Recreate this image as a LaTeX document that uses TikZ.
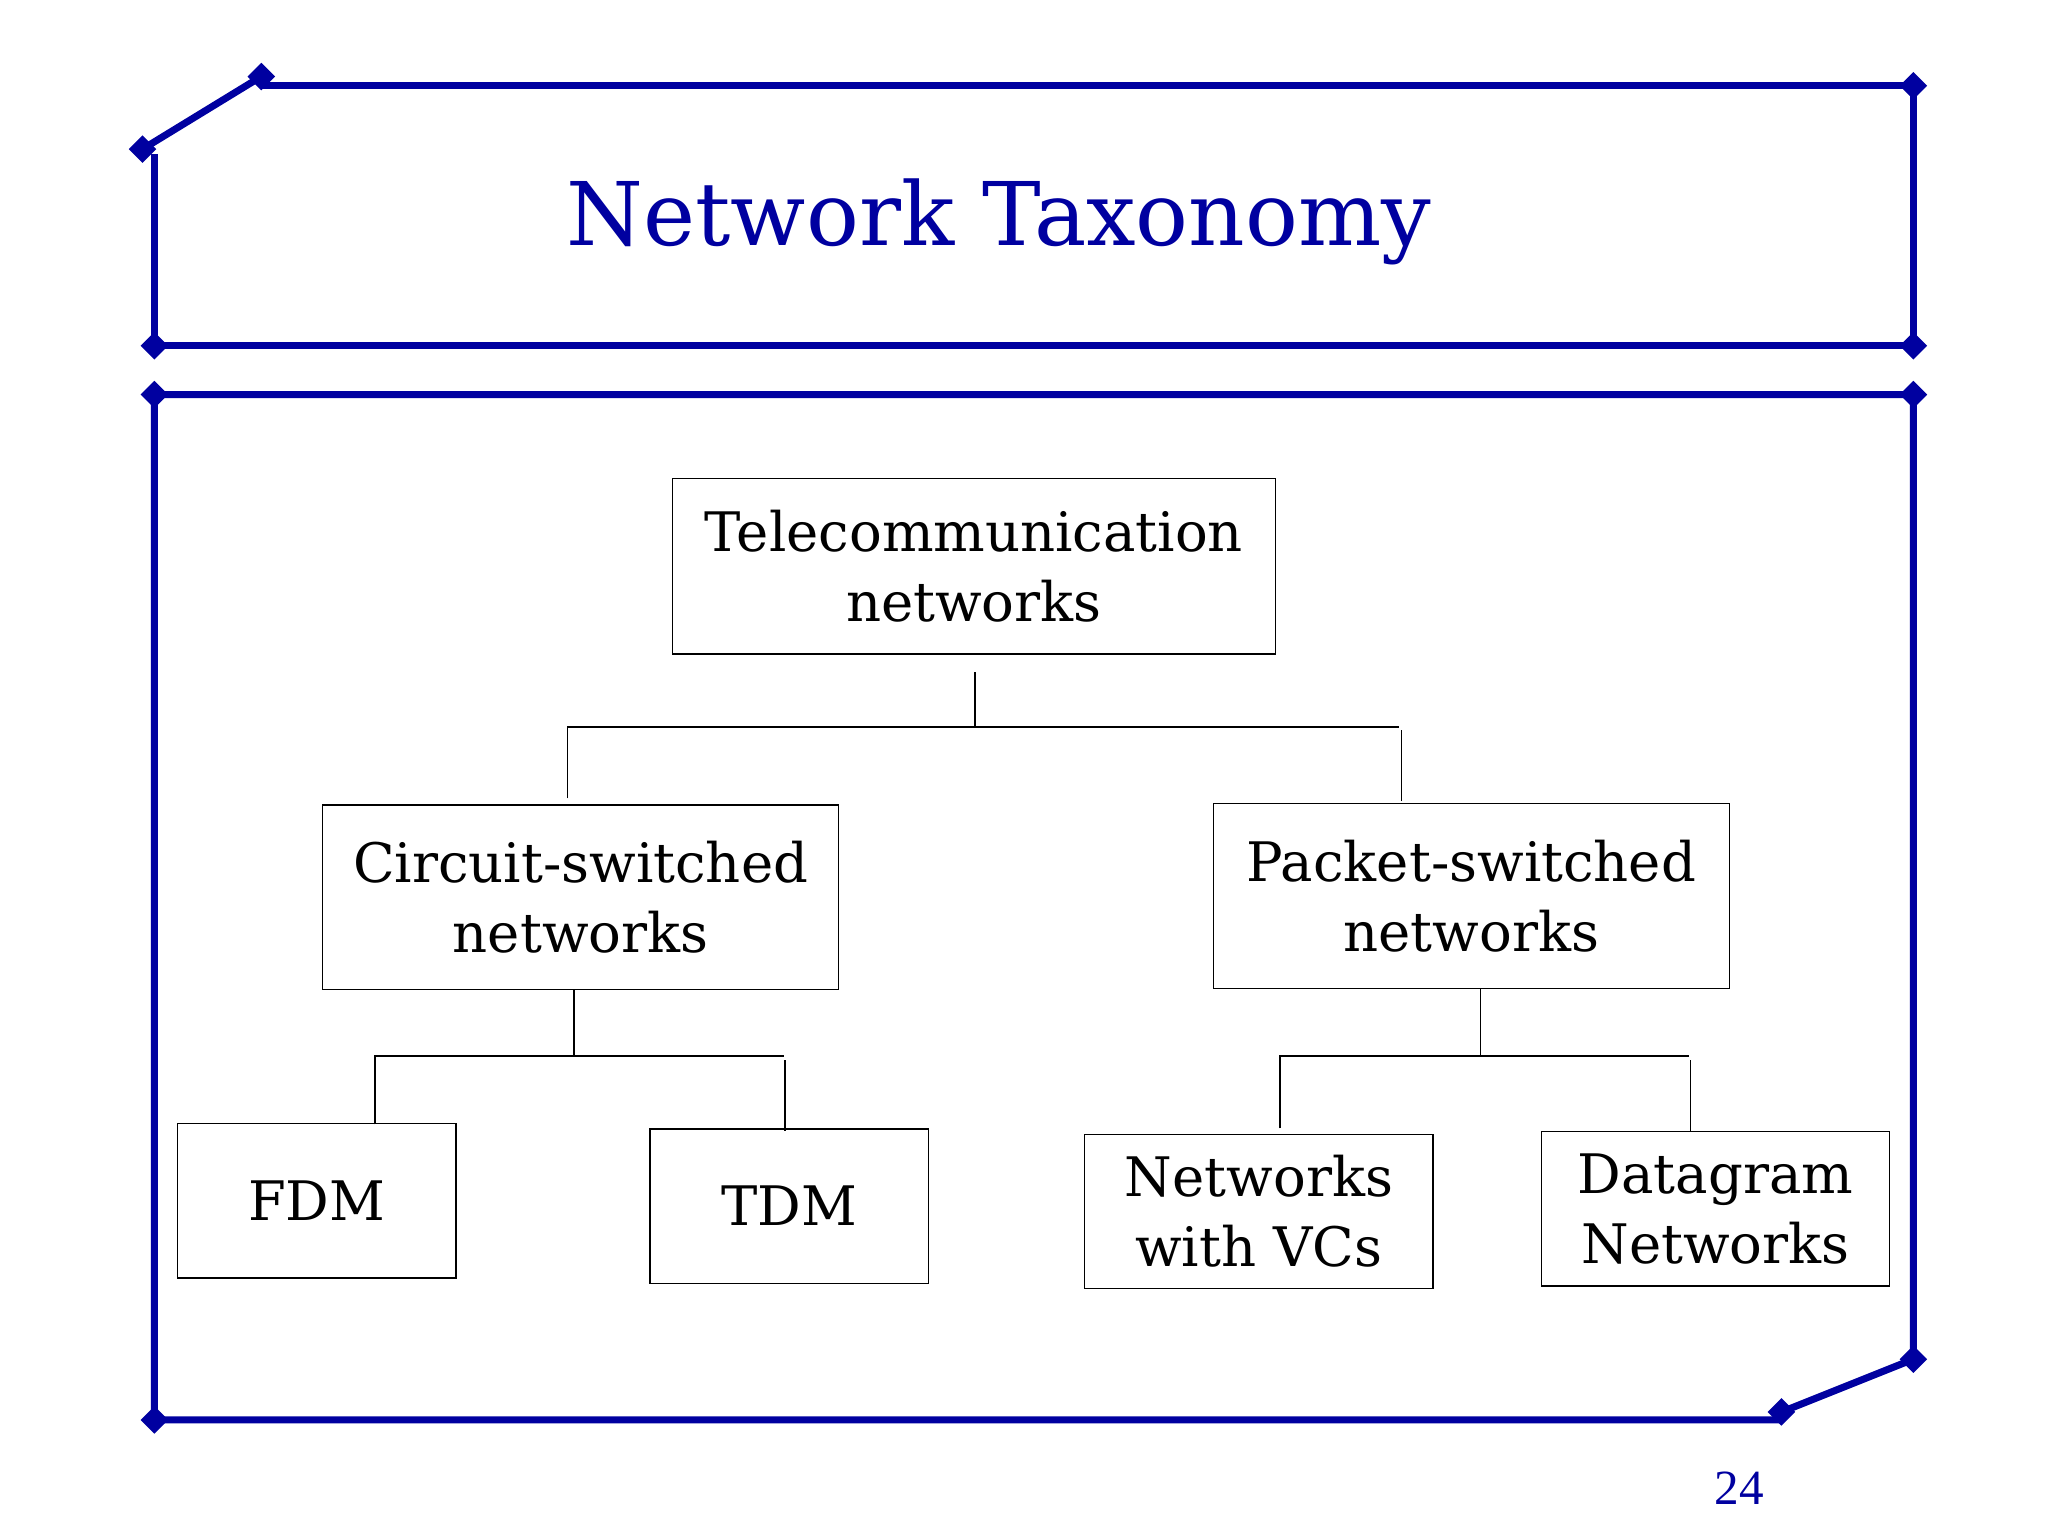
\documentclass[tikz,border=0pt]{standalone}
\usepackage{fontspec}
\setmainfont{DejaVu Serif}
\newfontfamily\numfont{Liberation Serif}
\usetikzlibrary{shapes.geometric}
\definecolor{frameblue}{RGB}{0,0,160}
\begin{document}
\begin{tikzpicture}[x=0.0132cm,y=-0.0132cm,
  frame/.style={line width=2pt, draw=frameblue},
  dot/.style={diamond, fill=frameblue, inner sep=0pt, minimum size=8pt},
  box/.style={draw, thin, align=center, inner sep=0pt, font=\fontsize{15.5}{20}\selectfont},
  link/.style={draw, line width=0.5pt}]
\useasboundingbox (0,0) rectangle (1552,1164);

% Rahmen oben
\draw[frame] (108,113) -- (198,58);
\draw[frame] (198,65) -- (1450,65) -- (1450,262) -- (117,262) -- (117,117);
\foreach \p in {(108,113),(198,58),(1450,65),(1450,262),(117,262)} \node[dot] at \p {};
% Rahmen unten
\draw[frame] (1350,1070) -- (1450,1030) -- (1450,299) -- (117,299) -- (117,1076) -- (1350,1076);
\foreach \p in {(1350,1070),(1450,1030),(1450,299),(117,299),(117,1076)} \node[dot] at \p {};

\node[text=frameblue, font=\fontsize{25}{30}\selectfont] (title) at (757,168) {Network Taxonomy};
\node[text=frameblue, font=\numfont\fontsize{14}{16}\selectfont] (num) at (1318,1128) {24};

% Boxen
\node[box, minimum width=457*0.0132cm, minimum height=133*0.0132cm] (T) at (738,429) {Telecommunication\\networks};
\node[box, minimum width=391*0.0132cm, minimum height=140*0.0132cm] (C) at (440,680) {Circuit-switched\\networks};
\node[box, minimum width=391*0.0132cm, minimum height=140*0.0132cm] (P) at (1115,679) {Packet-switched\\networks};
\node[box, minimum width=211*0.0132cm, minimum height=117*0.0132cm] (F) at (240,910) {FDM};
\node[box, minimum width=211*0.0132cm, minimum height=117*0.0132cm] (D) at (598,914) {TDM};
\node[box, minimum width=264*0.0132cm, minimum height=117*0.0132cm] (V) at (954,918) {Networks\\with VCs};
\node[box, minimum width=264*0.0132cm, minimum height=117*0.0132cm] (G) at (1300,916) {Datagram\\Networks};

% Verbindungen
\coordinate (t1) at (739,551);
\coordinate (c1) at (430,605);
\coordinate (p1) at (1062,607);
\draw[link] ([yshift=-5pt]t1 |- T.south) -- (t1);
\draw[link] (c1) |- (1060,551);
\draw[link] (p1) -- (1062,553);

\coordinate (c2) at (435,800);
\draw[link] (c2 |- C.south) -- (c2);
\draw[link] (284,852) |- (594,800);
\draw[link] (595,857) -- (595,803);

\coordinate (p2) at (1122,800);
\draw[link] (p2 |- P.south) -- (p2);
\draw[link] (970,855) |- (1280,800);
\draw[link] (1281,857) -- (1281,803);
\end{tikzpicture}
\end{document}
